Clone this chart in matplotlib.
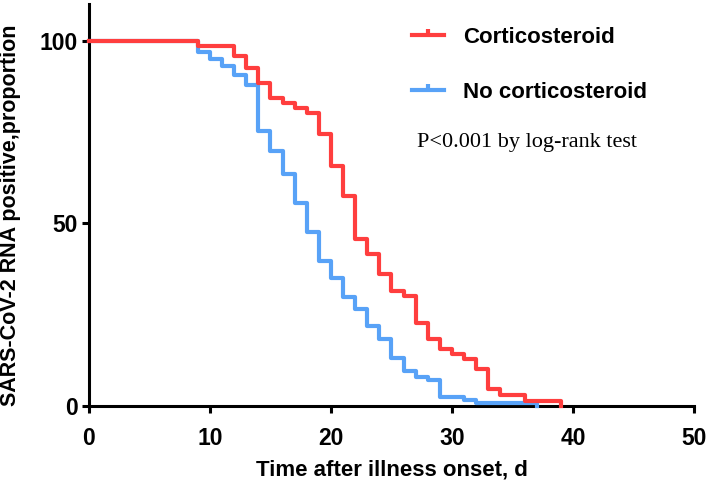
import matplotlib
matplotlib.use("Agg")
import matplotlib.pyplot as plt
from matplotlib.lines import Line2D

# Kaplan-Meier style step data (days, % positive)
steroid_days = [0, 9, 12, 13, 14, 15, 16, 17, 18, 19, 20, 21, 22, 23, 24, 25,
                26, 27, 28, 29, 30, 31, 32, 33, 34, 36, 39]
steroid_pct = [100, 98.5, 95.7, 92.6, 88.5, 84.4, 83, 81.6, 80.2, 74.5, 65.8,
               57.5, 45.8, 41.5, 36, 31.5, 30, 22.8, 18.3, 15.6, 14.3, 12.8,
               10.2, 4.6, 3.0, 1.5, 0]

no_steroid_days = [0, 9, 10, 11, 12, 13, 14, 15, 16, 17, 18, 19, 20, 21, 22,
                   23, 24, 25, 26, 27, 28, 29, 31, 32, 37]
no_steroid_pct = [100, 96.9, 94.9, 93, 90.5, 87.7, 75.2, 69.9, 63.5, 55.5,
                  47.6, 39.8, 35.1, 29.9, 26.5, 21.9, 18.3, 13, 9.6, 7.9, 7.1,
                  2.6, 1.7, 0.7, 0]

series_labels = ["Corticosteroid", "No corticosteroid"]
red = "#FF3E3E"
blue = "#58A2F7"

plt.rcParams["font.family"] = ["Liberation Sans", "DejaVu Sans"]

fig = plt.figure(figsize=(7.09, 4.86), dpi=100)
ax = fig.add_axes([0.1255, 0.1646, 0.8533, 0.8272])

ax.step(no_steroid_days, no_steroid_pct, where="post", color=blue, lw=3,
        clip_on=False, zorder=3)
ax.step(steroid_days, steroid_pct, where="post", color=red, lw=3,
        clip_on=False, zorder=4)

ax.set_xlim(0, 50)
ax.set_ylim(0, 110)
ax.set_xticks([0, 10, 20, 30, 40, 50])
ax.set_yticks([0, 50, 100])

for side in ["top", "right"]:
    ax.spines[side].set_visible(False)
for side in ["left", "bottom"]:
    ax.spines[side].set_linewidth(2.2)

ax.tick_params(axis="both", width=2.2, length=5, labelsize=16.5)
ax.tick_params(axis="x", pad=10)
ax.tick_params(axis="y", pad=3)
for lab in ax.get_xticklabels() + ax.get_yticklabels():
    lab.set_fontweight("bold")

ax.set_xlabel("Time after illness onset, d", fontsize=16, fontweight="bold",
              labelpad=7)
ax.set_ylabel("SARS-CoV-2 RNA positive,proportion", fontsize=15.5,
              fontweight="bold")
ax.yaxis.set_label_coords(-0.112, 0.475)

handles = [Line2D([], [], color=red, lw=3, marker=2, markersize=4, mew=3),
           Line2D([], [], color=blue, lw=3, marker=2, markersize=4, mew=3)]
ax.legend(handles, series_labels, loc="upper left",
          bbox_to_anchor=(0.534, 0.943), frameon=False, numpoints=1,
          handlelength=1.45, handletextpad=0.85, labelspacing=1.53,
          borderpad=0, borderaxespad=0,
          prop={"size": 16, "weight": "bold"})

ax.text(0.5417, 0.655, "P<0.001 by log-rank test", transform=ax.transAxes,
        va="center", ha="left", fontsize=16, family="Liberation Serif")

fig.savefig("out.png", dpi=100)
